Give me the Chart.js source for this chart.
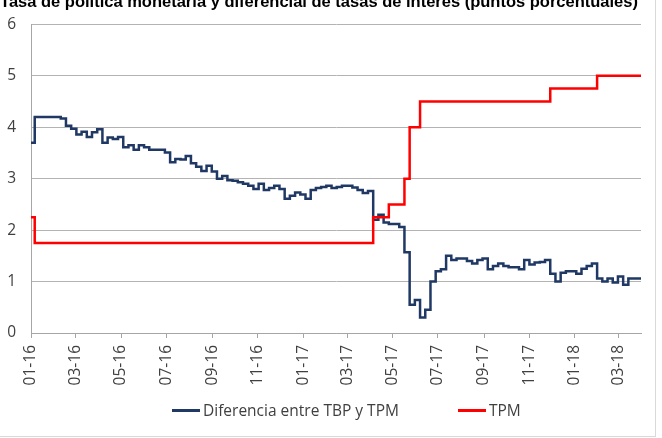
<!DOCTYPE html>
<html>
<head>
<meta charset="utf-8">
<script src="https://cdn.jsdelivr.net/npm/chart.js@4.4.1/dist/chart.umd.min.js"></script>
<style>
html,body{margin:0;padding:0;background:#fff;overflow:hidden;}
#wrap{position:relative;width:662px;height:438px;overflow:hidden;background:#fff;}
#title{position:absolute;left:-1px;top:-8px;width:640px;text-align:center;font:bold 16.5px "Liberation Sans",Arial,sans-serif;line-height:19px;color:#000;white-space:nowrap;}
#frame{position:absolute;left:-2px;top:-2px;width:657px;height:438px;border-right:1px solid #d9d9d9;border-bottom:1px solid #d9d9d9;pointer-events:none;}
canvas{position:absolute;left:0;top:0;}
.lg{position:absolute;top:400px;height:20px;display:flex;align-items:center;white-space:nowrap;
    font:15.5px "Open Sans","Liberation Sans",sans-serif;color:#404040;}
.lg .sw{width:28px;height:3px;margin-right:3px;}
</style>
</head>
<body>
<div id="wrap">
  <canvas id="c" width="662" height="438"></canvas>
  <div id="title">Tasa de política monetaria y diferencial de tasas de interés (puntos porcentuales)</div>
  <div id="legend"></div>
  <div id="frame"></div>
</div>
<script>
// ---- Data ----
const seriesNames = ['Diferencia entre TBP y TPM', 'TPM'];
const firstDate = '2016-01-01';      // first observation
const firstWeekDate = '2016-01-06';  // weekly observations start here (every 7 days)
const lastDate = '2018-03-31';       // last day covered by the data

const tickDates = ['2016-01-01','2016-03-01','2016-05-01','2016-07-01','2016-09-01','2016-11-01',
                   '2017-01-01','2017-03-01','2017-05-01','2017-07-01','2017-09-01','2017-11-01',
                   '2018-01-01','2018-03-01'];
const tickLabels = ['01-16','03-16','05-16','07-16','09-16','11-16',
                    '01-17','03-17','05-17','07-17','09-17','11-17',
                    '01-18','03-18'];

const diferencia = [3.70,
  4.20,4.20,4.20,4.20,4.20,4.17,4.03,3.97,3.86,3.91,
  3.81,3.90,3.96,3.70,3.80,3.77,3.81,3.61,3.65,3.56,
  3.65,3.61,3.56,3.56,3.56,3.51,3.32,3.38,3.37,3.44,
  3.30,3.23,3.15,3.25,3.14,3.00,3.05,2.97,2.96,2.93,
  2.90,2.86,2.80,2.90,2.78,2.82,2.86,2.80,2.61,2.67,
  2.73,2.69,2.61,2.78,2.82,2.84,2.86,2.82,2.84,2.86,
  2.86,2.83,2.78,2.72,2.76,2.20,2.30,2.15,2.12,2.12,
  2.06,1.57,0.55,0.64,0.30,0.45,1.00,1.20,1.24,1.50,
  1.42,1.45,1.45,1.40,1.35,1.42,1.45,1.24,1.30,1.35,
  1.30,1.28,1.28,1.24,1.42,1.33,1.37,1.38,1.42,1.15,
  1.00,1.17,1.20,1.20,1.15,1.25,1.30,1.35,1.06,1.00,
  1.06,0.98,1.10,0.94,1.06,1.06,1.06];

const tpm = [2.25,
  1.75,1.75,1.75,1.75,1.75,1.75,1.75,1.75,1.75,1.75,
  1.75,1.75,1.75,1.75,1.75,1.75,1.75,1.75,1.75,1.75,
  1.75,1.75,1.75,1.75,1.75,1.75,1.75,1.75,1.75,1.75,
  1.75,1.75,1.75,1.75,1.75,1.75,1.75,1.75,1.75,1.75,
  1.75,1.75,1.75,1.75,1.75,1.75,1.75,1.75,1.75,1.75,
  1.75,1.75,1.75,1.75,1.75,1.75,1.75,1.75,1.75,1.75,
  1.75,1.75,1.75,1.75,1.75,2.25,2.25,2.25,2.50,2.50,
  2.50,3.00,4.00,4.00,4.50,4.50,4.50,4.50,4.50,4.50,
  4.50,4.50,4.50,4.50,4.50,4.50,4.50,4.50,4.50,4.50,
  4.50,4.50,4.50,4.50,4.50,4.50,4.50,4.50,4.50,4.75,
  4.75,4.75,4.75,4.75,4.75,4.75,4.75,4.75,5.00,5.00,
  5.00,5.00,5.00,5.00,5.00,5.00,5.00];

const seriesColors = ['#1F3864', '#FF0000'];

// ---- helpers ----
const DAY = 86400000;
const t0 = Date.parse(firstDate + 'T00:00:00Z');
const dayOf = d => Math.round((Date.parse(d + 'T00:00:00Z') - t0) / DAY);

const obsDays = [dayOf(firstDate)];
for (let i = 1; i < diferencia.length; i++) obsDays.push(dayOf(firstWeekDate) + 7 * (i - 1));
const endDay = dayOf(lastDate);
const tickDays = tickDates.map(dayOf);

function toPoints(vals) {
  const pts = vals.map((v, i) => ({x: obsDays[i], y: v}));
  pts.push({x: endDay, y: vals[vals.length - 1]}); // last value holds to the end of the period
  return pts;
}

const FONT = {family: '"Open Sans", "Liberation Sans", sans-serif', size: 15.5};
const GRID = '#b3b3b3';
const AXIS = '#a6a6a6';
const TXT = '#404040';

const chart = new Chart(document.getElementById('c'), {
  type: 'line',
  data: {
    datasets: [
      {label: seriesNames[0], data: toPoints(diferencia), borderColor: seriesColors[0],
       borderWidth: 2.5, pointRadius: 0, stepped: true, fill: false, order: 1},
      {label: seriesNames[1], data: toPoints(tpm), borderColor: seriesColors[1],
       borderWidth: 2.5, pointRadius: 0, stepped: true, fill: false, order: 0}
    ]
  },
  options: {
    responsive: false,
    animation: false,
    devicePixelRatio: 1,
    layout: {padding: {top: 23, left: 0, right: 21, bottom: 0}},
    plugins: {
      title: {display: false},
      tooltip: {enabled: false},
      legend: {display: false}
    },
    scales: {
      x: {
        type: 'linear', position: 'bottom', min: 0, max: endDay,
        afterBuildTicks: s => { s.ticks = tickDays.map(v => ({value: v})); },
        afterFit: s => { s.height = 105; },
        grid: {drawOnChartArea: false, drawTicks: true, tickLength: 5, color: AXIS},
        border: {display: true, color: AXIS},
        ticks: {
          autoSkip: false, minRotation: 90, maxRotation: 90, padding: 7, color: TXT, font: FONT,
          callback: (v) => { const i = tickDays.indexOf(v); return i >= 0 ? tickLabels[i] : ''; }
        }
      },
      y: {
        min: 0, max: 6,
        afterFit: s => { s.width = 31; },
        grid: {color: GRID, drawTicks: false},
        border: {display: true, color: AXIS},
        ticks: {stepSize: 1, padding: 15, color: TXT, font: FONT}
      }
    }
  }
});

// ---- HTML legend built from the chart's datasets ----
const legendLeft = [172, 458];
const legendEl = document.getElementById('legend');
chart.data.datasets.forEach((ds, i) => {
  const item = document.createElement('div');
  item.className = 'lg';
  item.style.left = legendLeft[i] + 'px';
  const sw = document.createElement('span');
  sw.className = 'sw';
  sw.style.background = ds.borderColor;
  const tx = document.createElement('span');
  tx.textContent = ds.label;
  item.appendChild(sw);
  item.appendChild(tx);
  legendEl.appendChild(item);
});
</script>
</body>
</html>
